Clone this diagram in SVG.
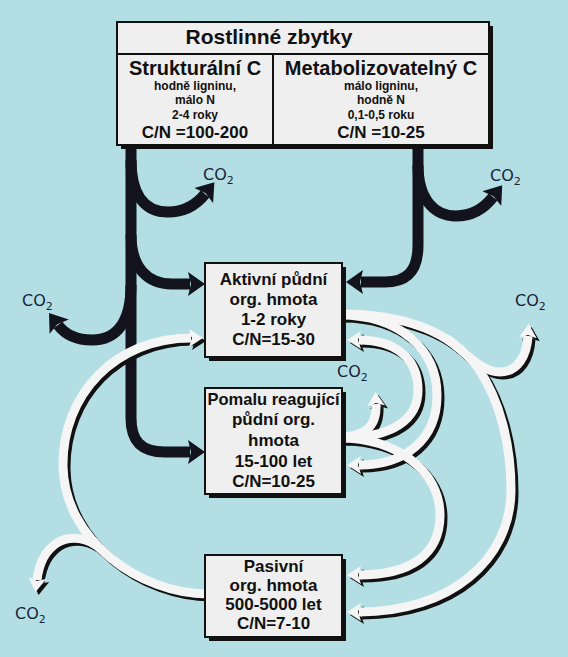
<svg xmlns="http://www.w3.org/2000/svg" width="568" height="657" viewBox="0 0 568 657">
<style>
.bg{fill:#b3dfe4}
.box{fill:#efefef;stroke:#111;stroke-width:2}
.sh{fill:#111}
.t{font-family:"Liberation Sans",Arial,sans-serif;font-weight:bold;fill:#111;text-anchor:middle}
.blk{fill:none;stroke:#12131c;stroke-width:11;marker-end:url(#hb)}
.wsh{fill:none;stroke:#111;stroke-width:9;marker-end:url(#hs)}
.wht{fill:none;stroke:#f5f5f5;stroke-width:9;marker-end:url(#hw)}
.co2{font-family:"DejaVu Sans","Liberation Sans",sans-serif;font-size:16px;fill:#1a1f3a}
</style>
<defs>
<marker id="hb" markerUnits="userSpaceOnUse" markerWidth="18" markerHeight="26" viewBox="0 -13 18 26" refX="2" refY="0" orient="auto"><path d="M0,-12 L17,0 L0,12 L3,0 z" fill="#12131c"/></marker>
<marker id="hw" markerUnits="userSpaceOnUse" markerWidth="15" markerHeight="20" viewBox="0 -10 15 20" refX="2" refY="0" orient="auto"><path d="M0,-9 L14,0 L0,9 L3,0 z" fill="#f5f5f5"/></marker>
<marker id="hs" markerUnits="userSpaceOnUse" markerWidth="15" markerHeight="20" viewBox="0 -10 15 20" refX="2" refY="0" orient="auto"><path d="M0,-9 L14,0 L0,9 L3,0 z" fill="#111"/></marker>
<path id="wA" d="M340,314 C400,314 450,330 478,368 C500,400 511,445 511,490 C511,560 450,612 359,612"/>
<path id="wAc" d="M447,339 C465,351 480,372 500,372 C518,372 527,355 528,336"/>
<path id="wD" d="M340,315 C400,315 437,350 437,395 C437,440 405,465 359,465"/>
<path id="wC" d="M340,438 C395,438 418,418 418,390 C418,358 395,340 359,340"/>
<path id="wB" d="M340,438 C395,438 440,470 440,515 C440,555 410,575 359,575"/>
<path id="wP" d="M340,437 C364,436 377,428 376,404"/>
<path id="wE" d="M208,594 C140,594 64,540 63,466 C62,395 115,338 191,338"/>
<path id="wEc" d="M102,550 C88,537 70,535 57,543 C46,550 39,563 37,580"/>
</defs>
<rect class="bg" x="0" y="0" width="568" height="657"/>

<g id="connectors">
  <path class="blk" d="M131,140 V418 C131,440 140,452 165,452 H190"/>
  <path class="blk" d="M131,160 C131,195 145,212 168,212 C185,212 197,204 205,194"/>
  <path class="blk" d="M131,235 C131,268 148,284 172,284 H190"/>
  <path class="blk" d="M131,285 C131,320 118,340 92,340 C75,340 64,333 58,325"/>
  <path class="blk" d="M418,140 V245 C418,270 408,282 385,282 H361"/>
  <path class="blk" d="M418,165 C418,200 435,216 456,216 C474,216 486,206 493,197"/>
  <g transform="translate(3,3)">
    <use class="wsh" href="#wA"/>
    <use class="wsh" href="#wAc"/>
    <use class="wsh" href="#wD"/>
    <use class="wsh" href="#wC"/>
    <use class="wsh" href="#wB"/>
    <use class="wsh" href="#wP"/>
    <use class="wsh" href="#wE"/>
    <use class="wsh" href="#wEc"/>
  </g>
  <use class="wht" href="#wA"/>
  <use class="wht" href="#wAc"/>
  <use class="wht" href="#wD"/>
  <use class="wht" href="#wC"/>
  <use class="wht" href="#wB"/>
  <use class="wht" href="#wP"/>
  <use class="wht" href="#wE"/>
  <use class="wht" href="#wEc"/>
</g>

<g id="co2-labels">
  <text class="co2" x="203" y="180">CO<tspan font-size="11" dy="4">2</tspan></text>
  <text class="co2" x="490" y="181">CO<tspan font-size="11" dy="4">2</tspan></text>
  <text class="co2" x="22" y="306">CO<tspan font-size="11" dy="4">2</tspan></text>
  <text class="co2" x="515" y="306">CO<tspan font-size="11" dy="4">2</tspan></text>
  <text class="co2" x="337" y="377">CO<tspan font-size="11" dy="4">2</tspan></text>
  <text class="co2" x="15" y="619">CO<tspan font-size="11" dy="4">2</tspan></text>
</g>

<g id="rostlinne-zbytky">
  <rect class="sh" x="121" y="26" width="372" height="123"/>
  <rect class="box" x="117" y="22" width="372" height="123"/>
  <line x1="117" y1="54" x2="489" y2="54" stroke="#111" stroke-width="2"/>
  <line x1="273" y1="54" x2="273" y2="145" stroke="#111" stroke-width="2"/>
  <text class="t" x="269" y="44" font-size="21">Rostlinné zbytky</text>
  <text class="t" x="195" y="75" font-size="20">Strukturální C</text>
  <text class="t" x="195" y="90" font-size="12">hodně ligninu,</text>
  <text class="t" x="195" y="104" font-size="12">málo N</text>
  <text class="t" x="195" y="119" font-size="12">2-4 roky</text>
  <text class="t" x="195" y="138" font-size="17">C/N =100-200</text>
  <text class="t" x="381" y="75" font-size="20">Metabolizovatelný C</text>
  <text class="t" x="381" y="90" font-size="12">málo ligninu,</text>
  <text class="t" x="381" y="104" font-size="12">hodně N</text>
  <text class="t" x="381" y="119" font-size="12">0,1-0,5 roku</text>
  <text class="t" x="381" y="138" font-size="17">C/N =10-25</text>
</g>

<g id="aktivni">
  <rect class="sh" x="209" y="267" width="137" height="94"/>
  <rect class="box" x="205" y="263" width="137" height="94"/>
  <text class="t" x="273.5" y="285" font-size="17">Aktivní půdní</text>
  <text class="t" x="273.5" y="305" font-size="17">org. hmota</text>
  <text class="t" x="273.5" y="325" font-size="17">1-2 roky</text>
  <text class="t" x="273.5" y="345" font-size="17">C/N=15-30</text>
</g>

<g id="pomalu">
  <rect class="sh" x="209" y="392" width="137" height="106"/>
  <rect class="box" x="205" y="388" width="137" height="106"/>
  <text class="t" x="273.5" y="405" font-size="16.5">Pomalu reagující</text>
  <text class="t" x="273.5" y="425" font-size="17">půdní org.</text>
  <text class="t" x="273.5" y="446" font-size="17">hmota</text>
  <text class="t" x="273.5" y="467" font-size="17">15-100 let</text>
  <text class="t" x="273.5" y="487" font-size="17">C/N=10-25</text>
</g>

<g id="pasivni">
  <rect class="sh" x="209" y="559" width="137" height="82"/>
  <rect class="box" x="205" y="555" width="137" height="82"/>
  <text class="t" x="273.5" y="572" font-size="17">Pasivní</text>
  <text class="t" x="273.5" y="591" font-size="17">org. hmota</text>
  <text class="t" x="273.5" y="610" font-size="17">500-5000 let</text>
  <text class="t" x="273.5" y="629" font-size="17">C/N=7-10</text>
</g>
</svg>
